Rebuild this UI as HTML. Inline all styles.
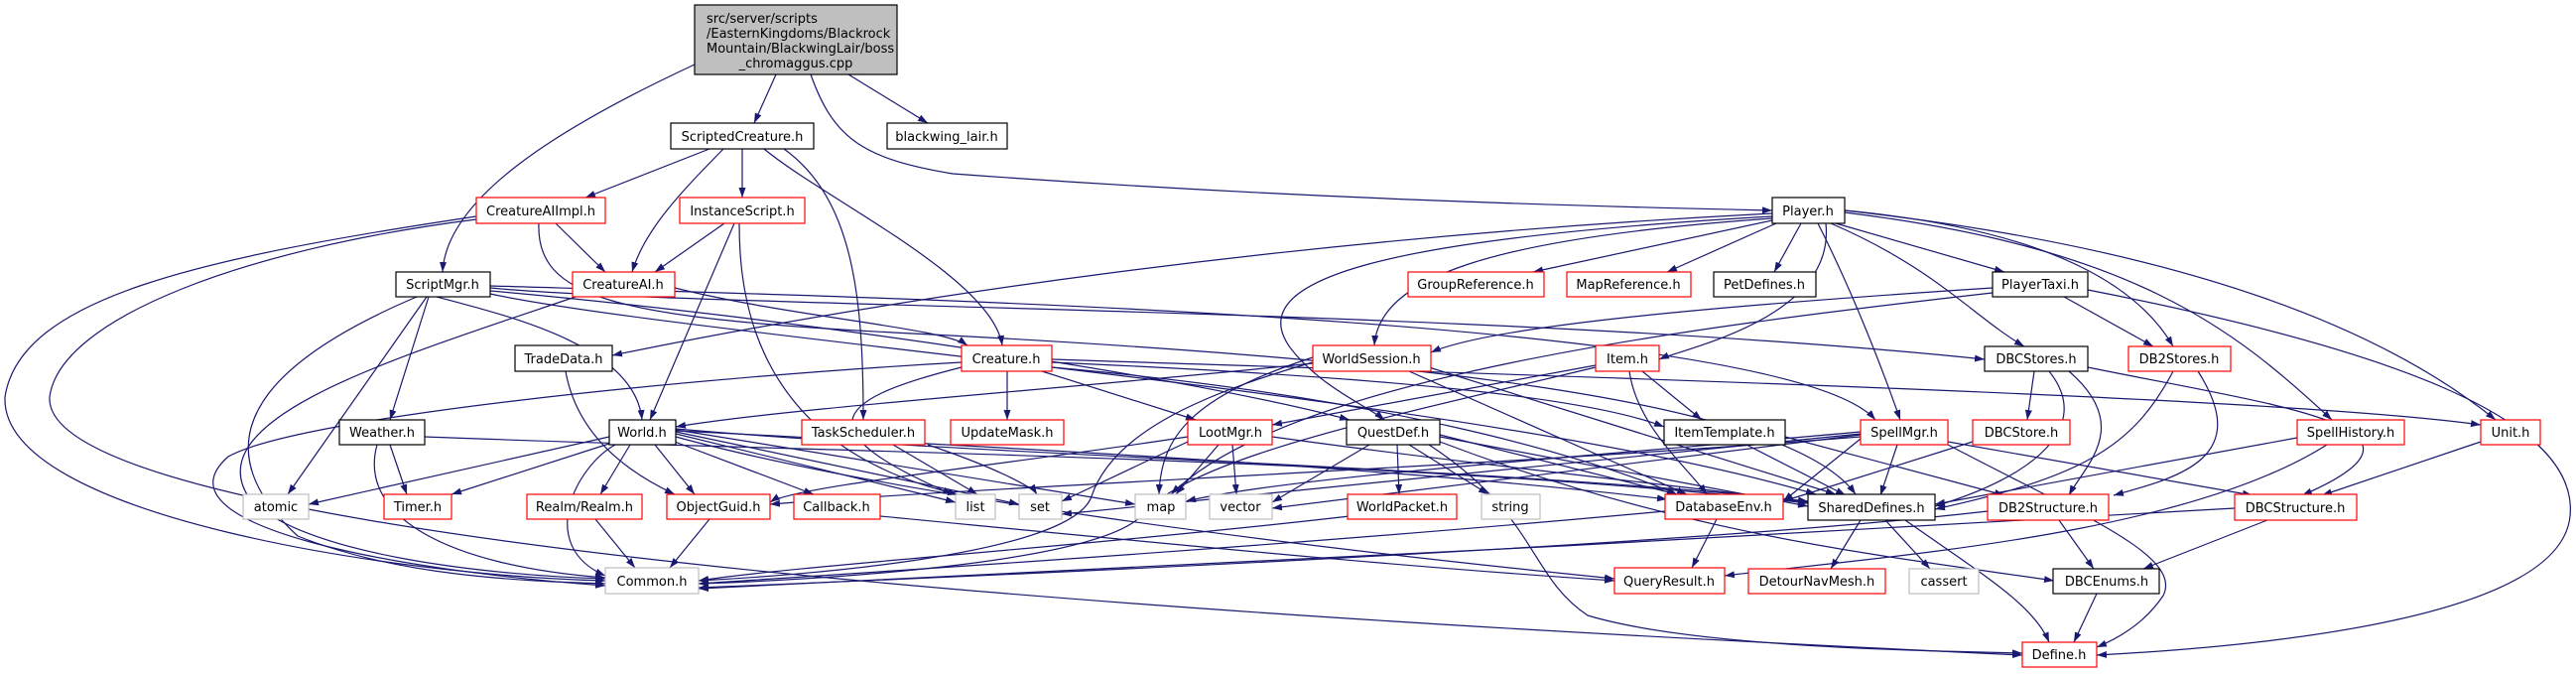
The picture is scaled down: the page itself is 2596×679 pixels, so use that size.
<!DOCTYPE html>
<html><head><meta charset="utf-8"><style>
html,body{margin:0;padding:0;background:#fff;}
svg{display:block;}
text{font-family:"DejaVu Sans","Liberation Sans",sans-serif;font-size:13px;fill:#000;}
.e path{fill:none;stroke:#191970;stroke-width:1.2;}
.r{fill:#fff;stroke:#ff0000;stroke-width:1.2;}
.b{fill:#fff;stroke:#000;stroke-width:1.2;}
.g{fill:#fff;stroke:#bfbfbf;stroke-width:1.2;}
</style></head><body>
<svg width="2596" height="679" viewBox="0 0 2596 679" xmlns="http://www.w3.org/2000/svg">
<defs><marker id="a" viewBox="0 0 10 7" refX="10" refY="3.5" markerWidth="10" markerHeight="7" markerUnits="userSpaceOnUse" orient="auto"><path d="M0,0 L10,3.5 L0,7 z" fill="#191970"/></marker></defs>
<g class="e" marker-end="url(#a)">
<path d="M700,65 C560,130 450,200 446,274" marker-end="url(#a)"/>
<path d="M782,75 L760,124" marker-end="url(#a)"/>
<path d="M855,75 L935,124" marker-end="url(#a)"/>
<path d="M817,75 C840,140 870,160 960,175 C1300,200 1600,208 1786,212" marker-end="url(#a)"/>
<path d="M715,150 L590,199" marker-end="url(#a)"/>
<path d="M729,150 C690,190 650,230 637,274" marker-end="url(#a)"/>
<path d="M748,150 L748,199" marker-end="url(#a)"/>
<path d="M770,150 C830,200 1000,280 1010,348" marker-end="url(#a)"/>
<path d="M790,150 C860,200 870,300 870,423" marker-end="url(#a)"/>
<path d="M560,225 L610,274" marker-end="url(#a)"/>
<path d="M730,225 L660,274" marker-end="url(#a)"/>
<path d="M480,218 C200,260 20,300 5,400 C0,520 400,580 610,585" marker-end="url(#a)"/>
<path d="M480,221 C250,250 60,320 50,400 C40,560 1400,630 2038,660" marker-end="url(#a)"/>
<path d="M543,225 C540,300 620,320 900,335 C1400,360 1800,400 1870,498" marker-end="url(#a)"/>
<path d="M740,225 L655,423" marker-end="url(#a)"/>
<path d="M745,225 C745,300 760,450 965,498" marker-end="url(#a)"/>
<path d="M432,299 L393,423" marker-end="url(#a)"/>
<path d="M440,299 C520,320 640,350 647,423" marker-end="url(#a)"/>
<path d="M430,299 L290,498" marker-end="url(#a)"/>
<path d="M420,299 C300,350 180,430 300,540 C400,580 520,585 610,588" marker-end="url(#a)"/>
<path d="M494,290 C700,310 1500,310 2000,362" marker-end="url(#a)"/>
<path d="M494,293 C800,320 1200,380 1360,423" marker-end="url(#a)"/>
<path d="M494,296 C700,340 1500,400 1830,498" marker-end="url(#a)"/>
<path d="M494,288 C900,300 1800,320 1890,423" marker-end="url(#a)"/>
<path d="M680,290 C800,320 950,330 975,348" marker-end="url(#a)"/>
<path d="M580,299 C400,360 200,420 250,500 C300,560 500,580 610,583" marker-end="url(#a)"/>
<path d="M1786,215 C1300,240 900,300 617,358" marker-end="url(#a)"/>
<path d="M1786,220 C1500,240 1390,280 1385,348" marker-end="url(#a)"/>
<path d="M1786,218 C1400,240 1250,280 1300,350 C1330,390 1380,410 1395,423" marker-end="url(#a)"/>
<path d="M1840,225 C1850,320 1700,350 1672,362" marker-end="url(#a)"/>
<path d="M1786,222 L1545,274" marker-end="url(#a)"/>
<path d="M1790,225 L1680,274" marker-end="url(#a)"/>
<path d="M1815,225 L1788,274" marker-end="url(#a)"/>
<path d="M1850,225 L2020,274" marker-end="url(#a)"/>
<path d="M1845,225 C1950,270 1990,320 2040,349" marker-end="url(#a)"/>
<path d="M1859,212 C2050,230 2150,280 2190,349" marker-end="url(#a)"/>
<path d="M1832,225 C1870,300 1900,380 1915,423" marker-end="url(#a)"/>
<path d="M1859,214 C2150,250 2250,330 2350,423" marker-end="url(#a)"/>
<path d="M1859,212 C2200,250 2400,330 2515,423" marker-end="url(#a)"/>
<path d="M2008,290 C1700,310 1500,330 1442,355" marker-end="url(#a)"/>
<path d="M2080,299 L2170,349" marker-end="url(#a)"/>
<path d="M2104,292 C2400,350 2600,420 2590,520 C2580,620 2300,650 2113,660" marker-end="url(#a)"/>
<path d="M2008,295 C1700,330 1300,380 1180,498" marker-end="url(#a)"/>
<path d="M2050,374 L2043,423" marker-end="url(#a)"/>
<path d="M2065,374 C2110,430 2050,480 1950,510" marker-end="url(#a)"/>
<path d="M2085,374 C2150,430 2100,470 2085,499" marker-end="url(#a)"/>
<path d="M2104,370 C2300,410 2480,430 2320,499" marker-end="url(#a)"/>
<path d="M2190,374 C2150,450 2100,480 1950,513" marker-end="url(#a)"/>
<path d="M2215,374 C2270,460 2200,480 2130,499" marker-end="url(#a)"/>
<path d="M1015,374 L1015,423" marker-end="url(#a)"/>
<path d="M1050,374 L1205,423" marker-end="url(#a)"/>
<path d="M1060,365 C1400,380 1600,400 1677,430" marker-end="url(#a)"/>
<path d="M1060,362 C1600,380 2300,400 2500,428" marker-end="url(#a)"/>
<path d="M1060,370 C1400,400 1600,460 1690,498" marker-end="url(#a)"/>
<path d="M969,365 C700,380 300,420 230,460 C150,530 400,575 610,590" marker-end="url(#a)"/>
<path d="M969,370 C850,400 800,430 960,498" marker-end="url(#a)"/>
<path d="M1323,366 C1100,390 800,410 681,430" marker-end="url(#a)"/>
<path d="M1323,360 C1200,400 1170,440 1168,498" marker-end="url(#a)"/>
<path d="M1323,365 C1200,400 1120,440 1100,500 C1080,560 800,580 704,585" marker-end="url(#a)"/>
<path d="M1420,374 L1700,498" marker-end="url(#a)"/>
<path d="M1440,370 L1850,498" marker-end="url(#a)"/>
<path d="M1608,368 L1282,428" marker-end="url(#a)"/>
<path d="M1655,374 L1715,423" marker-end="url(#a)"/>
<path d="M1642,374 C1650,430 1700,470 1720,498" marker-end="url(#a)"/>
<path d="M1608,370 C1400,420 1200,460 1150,520 C1100,570 800,585 704,588" marker-end="url(#a)"/>
<path d="M1197,440 C1000,470 800,490 776,506" marker-end="url(#a)"/>
<path d="M1228,448 L1185,498" marker-end="url(#a)"/>
<path d="M1242,448 L1246,498" marker-end="url(#a)"/>
<path d="M1197,445 L1070,505" marker-end="url(#a)"/>
<path d="M1282,440 C1500,470 1700,490 1822,506" marker-end="url(#a)"/>
<path d="M1380,448 L1282,506" marker-end="url(#a)"/>
<path d="M1408,448 L1410,498" marker-end="url(#a)"/>
<path d="M1420,448 L1500,498" marker-end="url(#a)"/>
<path d="M1451,440 L1822,510" marker-end="url(#a)"/>
<path d="M1451,438 L1690,498" marker-end="url(#a)"/>
<path d="M1451,445 C1700,540 1900,560 2070,585" marker-end="url(#a)"/>
<path d="M1440,448 C1550,520 1540,580 1600,620 C1700,650 1900,655 2038,658" marker-end="url(#a)"/>
<path d="M614,440 L311,508" marker-end="url(#a)"/>
<path d="M620,445 L455,498" marker-end="url(#a)"/>
<path d="M635,448 L605,498" marker-end="url(#a)"/>
<path d="M660,448 L700,498" marker-end="url(#a)"/>
<path d="M680,445 L820,498" marker-end="url(#a)"/>
<path d="M681,437 L963,506" marker-end="url(#a)"/>
<path d="M681,435 L1027,508" marker-end="url(#a)"/>
<path d="M681,433 L1144,508" marker-end="url(#a)"/>
<path d="M681,432 C1000,460 1500,470 1822,505" marker-end="url(#a)"/>
<path d="M681,434 C1000,450 1400,470 1680,503" marker-end="url(#a)"/>
<path d="M620,448 C580,470 540,550 610,580" marker-end="url(#a)"/>
<path d="M681,440 C900,500 1300,550 1627,583" marker-end="url(#a)"/>
<path d="M393,448 L410,498" marker-end="url(#a)"/>
<path d="M380,448 C360,520 450,570 610,582" marker-end="url(#a)"/>
<path d="M428,440 C800,455 1400,460 1822,507" marker-end="url(#a)"/>
<path d="M570,374 C580,430 620,470 680,498" marker-end="url(#a)"/>
<path d="M900,448 L985,498" marker-end="url(#a)"/>
<path d="M935,448 C1000,470 1040,490 1045,498" marker-end="url(#a)"/>
<path d="M600,523 L640,572" marker-end="url(#a)"/>
<path d="M715,523 L675,572" marker-end="url(#a)"/>
<path d="M887,520 C1200,550 1400,570 1627,585" marker-end="url(#a)"/>
<path d="M1360,520 C1100,550 800,570 704,585" marker-end="url(#a)"/>
<path d="M1730,523 L1705,572" marker-end="url(#a)"/>
<path d="M1678,515 C1300,550 900,575 704,588" marker-end="url(#a)"/>
<path d="M1875,524 L1845,573" marker-end="url(#a)"/>
<path d="M1900,524 L1945,573" marker-end="url(#a)"/>
<path d="M1920,524 C2000,580 2050,610 2065,647" marker-end="url(#a)"/>
<path d="M2075,524 L2110,573" marker-end="url(#a)"/>
<path d="M2003,515 C1700,550 1000,580 704,592" marker-end="url(#a)"/>
<path d="M2285,524 L2160,573" marker-end="url(#a)"/>
<path d="M2252,512 C1800,540 1000,580 704,593" marker-end="url(#a)"/>
<path d="M2113,598 L2090,647" marker-end="url(#a)"/>
<path d="M1912,448 L1895,499" marker-end="url(#a)"/>
<path d="M1963,445 L2270,499" marker-end="url(#a)"/>
<path d="M1799,440 L2020,499" marker-end="url(#a)"/>
<path d="M1963,448 C2100,520 2200,560 2180,600 C2160,630 2130,645 2113,652" marker-end="url(#a)"/>
<path d="M1875,435 C1600,460 1300,480 1195,505" marker-end="url(#a)"/>
<path d="M1875,438 L1282,512" marker-end="url(#a)"/>
<path d="M1875,437 L1070,518" marker-end="url(#a)"/>
<path d="M1875,440 C1500,470 1000,490 776,508" marker-end="url(#a)"/>
<path d="M1875,442 L1797,505" marker-end="url(#a)"/>
<path d="M1760,448 L1860,499" marker-end="url(#a)"/>
<path d="M2315,441 L1950,508" marker-end="url(#a)"/>
<path d="M2345,448 C2200,540 1900,560 1738,580" marker-end="url(#a)"/>
<path d="M2500,445 L2340,499" marker-end="url(#a)"/>
<path d="M1988,445 L1797,505" marker-end="url(#a)"/>
</g>
<rect x="700" y="5" width="204" height="70" fill="#bfbfbf" stroke="#000" stroke-width="1.2"/>
<text x="712" y="23">src/server/scripts</text>
<text x="712" y="38">/EasternKingdoms/Blackrock</text>
<text x="712" y="53">Mountain/BlackwingLair/boss</text>
<text x="802" y="68" text-anchor="middle">_chromaggus.cpp</text>
<g text-anchor="middle">
<rect class="b" x="676" y="124" width="144" height="26"/><text x="748" y="142">ScriptedCreature.h</text>
<rect class="b" x="894" y="124" width="121" height="26"/><text x="954" y="142">blackwing_lair.h</text>
<rect class="r" x="480" y="199" width="130" height="26"/><text x="545" y="217">CreatureAIImpl.h</text>
<rect class="r" x="685" y="199" width="126" height="26"/><text x="748" y="217">InstanceScript.h</text>
<rect class="b" x="1786" y="199" width="73" height="26"/><text x="1822" y="217">Player.h</text>
<rect class="b" x="399" y="274" width="95" height="25"/><text x="446" y="291">ScriptMgr.h</text>
<rect class="r" x="577" y="274" width="103" height="25"/><text x="628" y="291">CreatureAI.h</text>
<rect class="r" x="1419" y="274" width="137" height="25"/><text x="1487" y="291">GroupReference.h</text>
<rect class="r" x="1579" y="274" width="125" height="25"/><text x="1641" y="291">MapReference.h</text>
<rect class="b" x="1727" y="274" width="103" height="25"/><text x="1778" y="291">PetDefines.h</text>
<rect class="b" x="2008" y="274" width="96" height="25"/><text x="2056" y="291">PlayerTaxi.h</text>
<rect class="b" x="519" y="348" width="98" height="26"/><text x="568" y="366">TradeData.h</text>
<rect class="r" x="969" y="348" width="91" height="26"/><text x="1014" y="366">Creature.h</text>
<rect class="r" x="1323" y="348" width="119" height="26"/><text x="1382" y="366">WorldSession.h</text>
<rect class="r" x="1608" y="348" width="64" height="26"/><text x="1640" y="366">Item.h</text>
<rect class="b" x="2000" y="349" width="104" height="25"/><text x="2052" y="366">DBCStores.h</text>
<rect class="r" x="2145" y="349" width="103" height="25"/><text x="2196" y="366">DB2Stores.h</text>
<rect class="b" x="342" y="423" width="86" height="25"/><text x="385" y="440">Weather.h</text>
<rect class="b" x="614" y="423" width="67" height="25"/><text x="647" y="440">World.h</text>
<rect class="r" x="808" y="423" width="124" height="25"/><text x="870" y="440">TaskScheduler.h</text>
<rect class="r" x="958" y="423" width="114" height="25"/><text x="1015" y="440">UpdateMask.h</text>
<rect class="r" x="1197" y="423" width="85" height="25"/><text x="1240" y="440">LootMgr.h</text>
<rect class="b" x="1357" y="423" width="94" height="25"/><text x="1404" y="440">QuestDef.h</text>
<rect class="b" x="1677" y="423" width="122" height="25"/><text x="1738" y="440">ItemTemplate.h</text>
<rect class="r" x="1875" y="423" width="88" height="25"/><text x="1919" y="440">SpellMgr.h</text>
<rect class="r" x="1988" y="423" width="98" height="25"/><text x="2037" y="440">DBCStore.h</text>
<rect class="r" x="2315" y="423" width="108" height="25"/><text x="2369" y="440">SpellHistory.h</text>
<rect class="r" x="2500" y="423" width="60" height="25"/><text x="2530" y="440">Unit.h</text>
<rect class="g" x="245" y="498" width="66" height="25"/><text x="278" y="515">atomic</text>
<rect class="r" x="387" y="498" width="68" height="25"/><text x="421" y="515">Timer.h</text>
<rect class="r" x="531" y="498" width="116" height="25"/><text x="589" y="515">Realm/Realm.h</text>
<rect class="r" x="672" y="498" width="104" height="25"/><text x="724" y="515">ObjectGuid.h</text>
<rect class="r" x="800" y="498" width="87" height="25"/><text x="843" y="515">Callback.h</text>
<rect class="g" x="963" y="498" width="40" height="25"/><text x="983" y="515">list</text>
<rect class="g" x="1027" y="498" width="43" height="25"/><text x="1048" y="515">set</text>
<rect class="g" x="1144" y="498" width="51" height="25"/><text x="1170" y="515">map</text>
<rect class="g" x="1219" y="498" width="63" height="25"/><text x="1250" y="515">vector</text>
<rect class="r" x="1358" y="498" width="110" height="25"/><text x="1413" y="515">WorldPacket.h</text>
<rect class="g" x="1493" y="498" width="59" height="25"/><text x="1522" y="515">string</text>
<rect class="r" x="1678" y="498" width="119" height="25"/><text x="1737" y="515">DatabaseEnv.h</text>
<rect class="b" x="1822" y="498" width="128" height="26"/><text x="1886" y="516">SharedDefines.h</text>
<rect class="r" x="2003" y="498" width="122" height="26"/><text x="2064" y="516">DB2Structure.h</text>
<rect class="r" x="2252" y="498" width="123" height="26"/><text x="2313" y="516">DBCStructure.h</text>
<rect class="g" x="610" y="572" width="94" height="26"/><text x="657" y="590">Common.h</text>
<rect class="r" x="1627" y="572" width="111" height="26"/><text x="1682" y="590">QueryResult.h</text>
<rect class="r" x="1762" y="573" width="138" height="25"/><text x="1831" y="590">DetourNavMesh.h</text>
<rect class="g" x="1924" y="573" width="70" height="25"/><text x="1959" y="590">cassert</text>
<rect class="b" x="2069" y="573" width="107" height="25"/><text x="2123" y="590">DBCEnums.h</text>
<rect class="r" x="2038" y="647" width="75" height="25"/><text x="2075" y="664">Define.h</text>
</g>
</svg>
</body></html>
